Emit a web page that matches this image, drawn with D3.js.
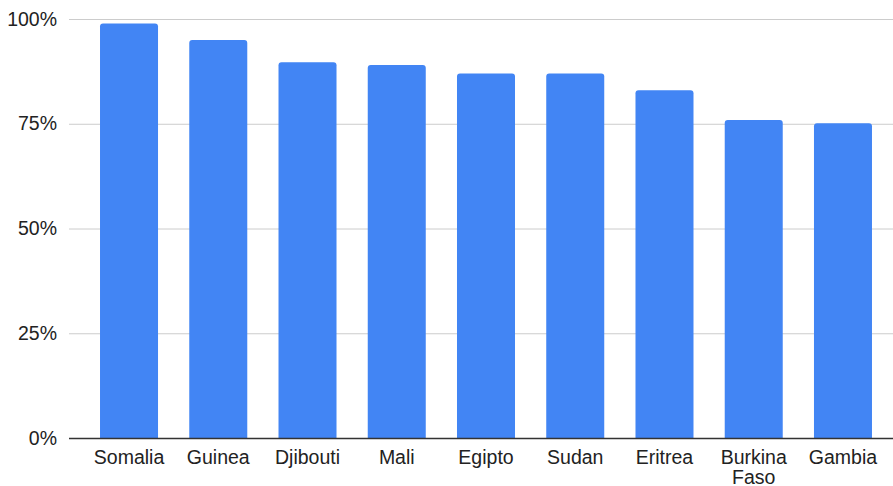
<!DOCTYPE html>
<html>
<head>
<meta charset="utf-8">
<script src="https://cdn.jsdelivr.net/npm/d3@7"></script>
<style>
  body { margin: 0; background: #fff; }
  svg { display: block; font-family: Arial, "Liberation Sans", sans-serif; }
</style>
</head>
<body>
<svg id="chart" width="893" height="486"></svg>
<script>
var countries = ["Somalia", "Guinea", "Djibouti", "Mali", "Egipto", "Sudan", "Eritrea", "Burkina Faso", "Gambia"]
var values = [98.9, 95.0, 89.7, 89.0, 87.0, 87.0, 83.0, 75.9, 75.1]
var yTicks = [0, 25, 50, 75, 100]

var width = 893, height = 486
var svg = d3.select("#chart")

var gridLeft = 69, gridRight = 893

var xScale = d3.scaleBand()
  .domain(countries)
  .range([84.4, 887.6])
  .paddingInner(0.35)
  .paddingOuter(0.175)

var yScale = d3.scaleLinear()
  .domain([0, 100])
  .range([438, 19])

// gridlines
svg.append("g")
  .selectAll("line")
  .data(yTicks.filter(function(d) { return d > 0 }))
  .enter().append("line")
    .attr("x1", gridLeft)
    .attr("x2", gridRight)
    .attr("y1", function(d) { return yScale(d) + 0.5 })
    .attr("y2", function(d) { return yScale(d) + 0.5 })
    .attr("stroke", "#cccccc")
    .attr("stroke-width", 1)

// y labels
svg.append("g")
  .selectAll("text")
  .data(yTicks)
  .enter().append("text")
    .attr("x", 57)
    .attr("y", function(d) { return yScale(d) + 6.5 })
    .attr("text-anchor", "end")
    .attr("fill", "#222")
    .attr("font-size", 19.5)
    .text(function(d) { return d + "%" })

// bars with rounded top corners
var r = 3
svg.append("g")
  .selectAll("path")
  .data(countries)
  .enter().append("path")
    .attr("fill", "#4285f4")
    .attr("d", function(d, i) {
      var x0 = xScale(d), w = xScale.bandwidth()
      var y0 = yScale(values[i]), y1 = yScale(0)
      return "M" + x0 + "," + y1 +
        "V" + (y0 + r) +
        "Q" + x0 + "," + y0 + " " + (x0 + r) + "," + y0 +
        "H" + (x0 + w - r) +
        "Q" + (x0 + w) + "," + y0 + " " + (x0 + w) + "," + (y0 + r) +
        "V" + y1 + "Z"
    })

// baseline
svg.append("line")
  .attr("x1", gridLeft)
  .attr("x2", gridRight)
  .attr("y1", yScale(0) + 0.5)
  .attr("y2", yScale(0) + 0.5)
  .attr("stroke", "#333")
  .attr("stroke-width", 1.3)

// x labels
var xLabels = svg.append("g")
  .selectAll("text")
  .data(countries)
  .enter().append("text")
    .attr("text-anchor", "middle")
    .attr("fill", "#222")
    .attr("font-size", 19.5)
    .attr("transform", function(d) { return "translate(" + (xScale(d) + xScale.bandwidth() / 2) + ",464)" })

xLabels.each(function(d) {
  var words = d.split(" ")
  var t = d3.select(this)
  words.forEach(function(w, j) {
    t.append("tspan")
      .attr("x", 0)
      .attr("dy", j === 0 ? 0 : 19.5)
      .text(w)
  })
})
</script>
</body>
</html>
